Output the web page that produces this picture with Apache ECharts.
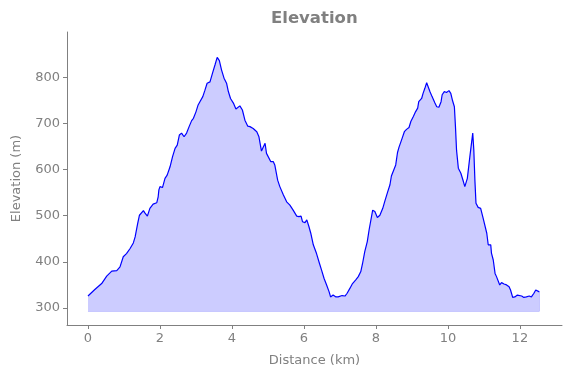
<!DOCTYPE html>
<html>
<head>
<meta charset="utf-8">
<script src="https://cdn.jsdelivr.net/npm/echarts@6/dist/echarts.min.js"></script>
<style>
  html, body { margin: 0; padding: 0; background: #fff; }
  #chart { width: 571px; height: 378px; }
</style>
</head>
<body>
<div id="chart"></div>
<script>
// distance along the route (km)
const distance = [
  0.00, 0.19, 0.38, 0.52, 0.66, 0.80, 0.84, 0.89, 0.98, 1.07, 1.17, 1.26, 1.31, 1.38, 1.43,
  1.54, 1.58, 1.65, 1.72, 1.81, 1.91, 1.95, 1.97, 2.00, 2.07, 2.14, 2.20, 2.28, 2.35, 2.42,
  2.48, 2.54, 2.60, 2.67, 2.74, 2.81, 2.88, 2.93, 3.00, 3.06, 3.11, 3.19, 3.25, 3.31, 3.39,
  3.46, 3.53, 3.59, 3.65, 3.71, 3.78, 3.85, 3.90, 3.96, 4.04, 4.11, 4.16, 4.22, 4.29, 4.36,
  4.44, 4.50, 4.59, 4.69, 4.75, 4.82, 4.87, 4.92, 4.96, 5.01, 5.08, 5.15, 5.19, 5.27, 5.33,
  5.43, 5.52, 5.61, 5.70, 5.80, 5.86, 5.92, 5.96, 6.03, 6.08, 6.14, 6.19, 6.26, 6.35, 6.43,
  6.49, 6.56, 6.63, 6.70, 6.74, 6.81, 6.89, 6.95, 7.00, 7.06, 7.14, 7.20, 7.28, 7.35, 7.44,
  7.51, 7.58, 7.63, 7.69, 7.76, 7.81, 7.86, 7.91, 7.97, 8.04, 8.11, 8.19, 8.25, 8.32, 8.39,
  8.43, 8.48, 8.55, 8.60, 8.64, 8.69, 8.73, 8.79, 8.85, 8.92, 8.97, 9.04, 9.10, 9.16, 9.19,
  9.27, 9.31, 9.36, 9.41, 9.45, 9.50, 9.56, 9.64, 9.69, 9.75, 9.81, 9.84, 9.90, 9.96, 10.03,
  10.08, 10.13, 10.18, 10.21, 10.24, 10.29, 10.36, 10.43, 10.47, 10.54, 10.61, 10.69, 10.72, 10.75, 10.78,
  10.84, 10.91, 10.98, 11.03, 11.08, 11.12, 11.15, 11.19, 11.21, 11.26, 11.31, 11.35, 11.40, 11.44, 11.49,
  11.56, 11.63, 11.70, 11.74, 11.80, 11.86, 11.93, 11.98, 12.05, 12.11, 12.18, 12.26, 12.32, 12.39, 12.44,
  12.49, 12.54
];

// elevation at each distance (m)
const elevation = [
  326, 340, 353, 369, 380, 381, 380, 389, 411, 418, 429, 441, 454, 483, 501,
  511, 506, 499, 516, 525, 528, 541, 556, 563, 561, 581, 588, 606, 628, 646,
  653, 675, 679, 671, 679, 693, 706, 711, 725, 740, 747, 758, 772, 787, 790,
  809, 827, 843, 836, 816, 798, 787, 769, 754, 744, 731, 733, 738, 729, 707,
  694, 693, 689, 682, 671, 640, 639, 657, 635, 631, 617, 617, 610, 577, 563,
  545, 530, 523, 512, 499, 498, 499, 487, 485, 491, 476, 462, 437, 418, 397,
  382, 364, 350, 335, 324, 328, 324, 324, 321, 327, 326, 332, 343, 353, 361,
  368, 379, 397, 422, 444, 469, 471, 512, 509, 496, 501, 516, 532, 550, 567,
  586, 585, 610, 637, 648, 644, 668, 682, 687, 691, 704, 715, 725, 733, 747,
  754, 765, 776, 788, 785, 769, 758, 744, 736, 735, 747, 762, 769, 767, 771,
  765, 749, 736, 693, 642, 603, 592, 574, 563, 581, 628, 679, 642, 577, 527,
  518, 516, 494, 491, 462, 437, 440, 437, 419, 404, 375, 368, 364, 350, 355,
  352, 350, 346, 339, 323, 324, 328, 324, 326, 323, 324, 326, 324, 332, 339,
  339, 335
];

const xTicks = [0, 2, 4, 6, 8, 10, 12];
const yTicks = [300, 400, 500, 600, 700, 800];
const fillBase = 293;

const chart = echarts.init(document.getElementById('chart'));

const axisGray = '#808080';
const font = 'DejaVu Sans';

const last = distance.length - 1;
// outline of the filled region (bottom and right edge)
const fillEdge = [
  [distance[0], fillBase],
  [distance[last], fillBase],
  [distance[last], elevation[last]]
];

const option = {
  animation: false,
  backgroundColor: '#fff',
  title: {
    text: 'Elevation',
    left: 266,
    top: 5,
    textStyle: { color: '#808080', fontWeight: 'bold', fontSize: 16.5, fontFamily: font }
  },
  grid: { left: 67, right: 9, top: 32, bottom: 53 },
  xAxis: {
    type: 'value',
    min: -0.583,
    max: 13.17,
    name: 'Distance (km)',
    nameLocation: 'middle',
    nameGap: 29,
    nameTextStyle: { color: axisGray, fontSize: 13, fontFamily: font },
    axisLine: { show: true, onZero: false, lineStyle: { color: axisGray, width: 1 } },
    axisTick: { show: true, length: 4, customValues: xTicks, lineStyle: { color: axisGray } },
    axisLabel: { customValues: xTicks, color: axisGray, fontSize: 13, fontFamily: font, margin: 7 },
    splitLine: { show: false }
  },
  yAxis: {
    type: 'value',
    min: 263.2,
    max: 898,
    name: 'Elevation (m)',
    nameLocation: 'middle',
    nameGap: 44,
    nameTextStyle: { color: axisGray, fontSize: 13, fontFamily: font },
    axisLine: { show: true, onZero: false, lineStyle: { color: axisGray, width: 1 } },
    axisTick: { show: true, length: 4, customValues: yTicks, lineStyle: { color: axisGray } },
    axisLabel: { customValues: yTicks, color: axisGray, fontSize: 13, fontFamily: font, margin: 7 },
    splitLine: { show: false }
  },
  series: [
    {
      type: 'line',
      data: distance.map((d, i) => [d, elevation[i]]),
      showSymbol: false,
      smooth: false,
      z: 3,
      lineStyle: { color: '#0000ff', width: 1.2 },
      areaStyle: { color: '#ccccff', opacity: 1, origin: fillBase }
    },
    {
      type: 'line',
      data: fillEdge,
      showSymbol: false,
      silent: true,
      z: 2,
      lineStyle: { color: '#b3b3ff', width: 1 }
    }
  ]
};

chart.setOption(option);
</script>
</body>
</html>
